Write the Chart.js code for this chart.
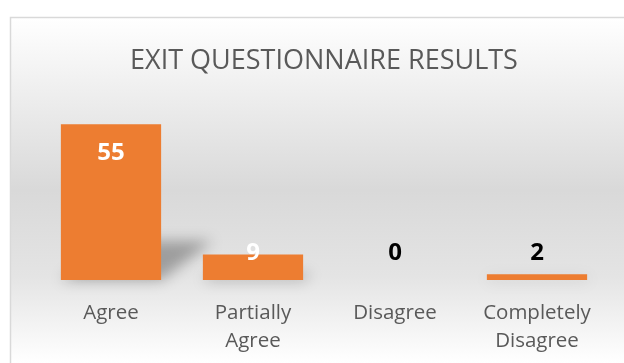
<!DOCTYPE html>
<html>
<head>
<meta charset="utf-8">
<script src="https://cdn.jsdelivr.net/npm/chart.js@4"></script>
<style>
  html, body { margin: 0; padding: 0; background: #ffffff; }
  #wrap { width: 624px; height: 363px; }
</style>
</head>
<body>
<div id="wrap"><canvas id="chart"></canvas></div>
<script>
// data
const categories = ["Agree", ["Partially", "Agree"], "Disagree", ["Completely", "Disagree"]];
const answers = [55, 9, 0, 2];
const chartTitle = "EXIT QUESTIONNAIRE RESULTS";

// background gradient + frame
const frame = {
  id: "frame",
  beforeDraw(chart) {
    const ctx = chart.ctx;
    ctx.save();
    const g = ctx.createLinearGradient(0, 17, 0, 363);
    g.addColorStop(0, "#ffffff");
    g.addColorStop(0.25, "#ececec");
    g.addColorStop(0.5, "#d9d9d9");
    g.addColorStop(0.75, "#e4e4e4");
    g.addColorStop(1, "#ffffff");
    ctx.fillStyle = g;
    ctx.fillRect(11, 18, 700, 400);
    ctx.strokeStyle = "#d9d9d9";
    ctx.lineWidth = 1.5;
    ctx.strokeRect(10.5, 17.5, 700, 400);
    ctx.restore();
  }
};

// soft shadow behind each bar
const barShadow = {
  id: "barShadow",
  beforeDatasetsDraw(chart) {
    const ctx = chart.ctx;
    ctx.save();
    ctx.filter = "blur(7px)";
    ctx.fillStyle = "rgba(0,0,0,0.3)";
    chart.getDatasetMeta(0).data.forEach((bar) => {
      const h = bar.base - bar.y;
      if (h < 3) return;
      const l = bar.x - bar.width / 2, r = bar.x + bar.width / 2;
      const dx = h * 0.33, dy = h * 0.25;
      ctx.beginPath();
      ctx.moveTo(l, bar.base);
      ctx.lineTo(r, bar.base);
      ctx.lineTo(r + dx, bar.base - dy);
      ctx.lineTo(l + dx, bar.base - dy);
      ctx.closePath();
      ctx.fill();
    });
    ctx.restore();
  }
};

// value labels
const valueLabels = {
  id: "valueLabels",
  afterDatasetsDraw(chart) {
    const ctx = chart.ctx;
    ctx.save();
    ctx.font = "bold 24px 'Open Sans'";
    ctx.textAlign = "center";
    ctx.textBaseline = "middle";
    chart.getDatasetMeta(0).data.forEach((bar, i) => {
      const h = bar.base - bar.y;
      const y = Math.min(bar.y + 29, bar.base - 27);
      ctx.fillStyle = h >= 20 ? "#ffffff" : "#000000";
      ctx.fillText(String(answers[i]), bar.x, y);
    });
    ctx.restore();
  }
};

new Chart(document.getElementById("chart").getContext("2d"), {
  type: "bar",
  data: {
    labels: categories,
    datasets: [
      {
        data: answers,
        backgroundColor: "#ed7d31",
        borderWidth: 0,
        barPercentage: 0.706,
        categoryPercentage: 1
      }
    ]
  },
  options: {
    responsive: true,
    maintainAspectRatio: false,
    animation: false,
    layout: { padding: { left: 40, right: 16, top: 0, bottom: 0 } },
    plugins: {
      legend: { display: false },
      tooltip: { enabled: false },
      title: {
        display: true,
        text: chartTitle,
        color: "#595959",
        font: { family: "'Open Sans'", size: 27, weight: "normal", lineHeight: 1.2 },
        padding: { top: 45, bottom: 32.6 }
      }
    },
    scales: {
      y: { display: false, min: 0, max: 60 },
      x: {
        afterFit: (scale) => { scale.height = 83; },
        grid: { display: false, drawTicks: false },
        border: { display: false },
        ticks: {
          color: "#595959",
          padding: 19,
          maxRotation: 0,
          autoSkip: false,
          font: { family: "'Open Sans'", size: 20.5, lineHeight: 1.37 }
        }
      }
    }
  },
  plugins: [frame, barShadow, valueLabels]
});
</script>
</body>
</html>
